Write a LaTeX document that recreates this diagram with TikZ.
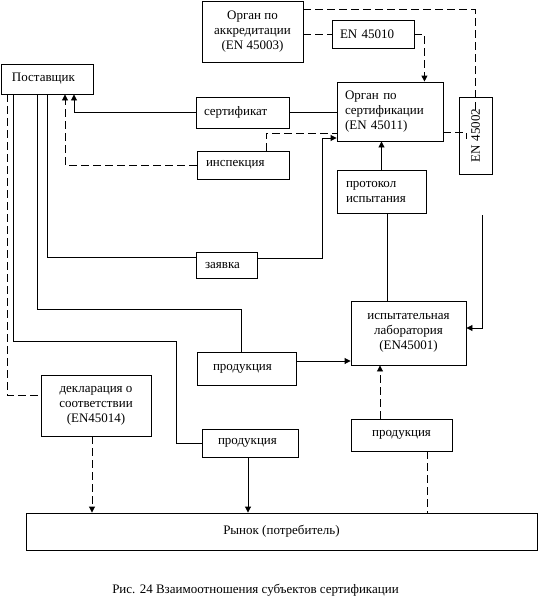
\documentclass[tikz,border=0pt]{standalone}
\usepackage{fontspec}
\setmainfont{Liberation Serif}
\usetikzlibrary{arrows.meta}
\begin{document}
\begin{tikzpicture}[x=1pt,y=-1pt,
  font=\fontsize{13}{15}\selectfont,
  box/.style={draw, line width=0.9pt, inner ysep=0pt},
  cbox/.style={box, align=center},
  lbox/.style={box, align=left},
  con/.style={line width=0.9pt},
  dsh/.style={con, dash pattern=on 8pt off 4pt},
  arr/.style={-{Triangle[length=6pt,width=6pt]}}]
\useasboundingbox (0,0) rectangle (538,608);
% nodes
\node[cbox, minimum width=101pt, minimum height=61pt] (acc) at (252.5,31.5) {Орган по\\аккредитации\\(EN 45003)};
\node[lbox, inner xsep=8pt, text width=66pt, minimum height=28pt] (en10) at (373,34) {EN 45010};
\node[lbox, inner xsep=11pt, text width=70pt, minimum height=30pt] (sup) at (47,79) {Поставщик};
\node[lbox, inner xsep=8pt, text width=77pt, minimum height=31pt] (cert) at (242.5,112.5) {сертификат};
\node[lbox, inner xsep=9pt, text width=74pt, minimum height=28pt] (insp) at (243,165) {инспекция};
\node[lbox, inner xsep=8pt, text width=90pt, minimum height=59pt] (org) at (390,111.5) {Орган по\\сертификации\\(EN 45011)};
\node[box, rotate=90, minimum width=77pt, minimum height=33pt] (en02) at (475.5,135.5) {EN 45002};
\node[lbox, inner xsep=9pt, text width=71pt, minimum height=43pt] (proto) at (381.5,191.5) {протокол\\испытания};
\node[lbox, inner xsep=9pt, text width=43pt, minimum height=26pt] (zay) at (226.5,265) {заявка};
\node[cbox, minimum width=115pt, minimum height=64pt] (lab) at (408.5,333) {испытательная\\лаборатория\\(EN45001)};
\node[lbox, inner xsep=16pt, text width=67pt, minimum height=33pt] (prod1) at (246.5,368.5) {продукция};
\node[cbox, minimum width=110pt, minimum height=61pt] (decl) at (96,405.5) {декларация о\\соответствии\\(EN45014)};
\node[lbox, inner xsep=16pt, text width=64pt, minimum height=28pt] (prod2) at (250,443) {продукция};
\node[cbox, minimum width=101pt, minimum height=32pt] (prod3) at (401.5,435) {продукция};
\node[cbox, minimum width=511pt, minimum height=37pt] (market) at (281.5,531.5) {Рынок (потребитель)};
\node (cap) at (255.5,590) {Рис. 24 Взаимоотношения субъектов сертификации};
% helper coordinates
\coordinate (c1) at (475,113);
\coordinate (c2) at (466,132);
\coordinate (c3) at (322,138);
\coordinate (c6) at (482,215);
\coordinate (c4) at (241,309);
\coordinate (c5) at (176,341);
\coordinate (p1e) at ([yshift=7.5pt]prod1.east);
\coordinate (prs) at ([xshift=5.5pt]proto.south);
\coordinate (p3n) at ([xshift=-21.5pt]prod3.north);
\coordinate (p3s) at ([xshift=25.5pt]prod3.south);
\coordinate (ds) at ([xshift=-4pt]decl.south);
\coordinate (p2s) at ([xshift=-2pt]prod2.south);
% connectors
\draw[dsh] (acc.east |- en10.west) -- (en10.west);
\draw[dsh,arr] (en10.east) -| ([xshift=-19pt]org.north east);
\draw[dsh] ([yshift=-9pt]acc.north east) -| (c1);
\draw[dsh] ([yshift=-20.5pt]org.east) -- (c2) -- ++(0,7);
\draw[con] (cert.east) -- (org.west |- cert.east);
\draw[con,arr] (cert.west) -| ([xshift=27pt]sup.south);
\draw[dsh,arr] (insp.west) -| ([xshift=18pt]sup.south);
\draw[dsh] ([xshift=23pt]insp.north) |- ([yshift=-21.5pt]org.west);
\draw[con] (sup.south) |- ([yshift=8pt]zay.west);
\draw[con,arr] ([yshift=7pt]zay.east) -| (c3) -- (org.west |- c3);
\draw[con] ([xshift=-10pt]sup.south) |- (c4) -- (c4 |- prod1.north);
\draw[con,arr] (p1e) -- (lab.west |- p1e);
\draw[con] ([xshift=-34pt]sup.south) |- (c5) |- (prod2.west);
\draw[dsh] ([xshift=-40pt]sup.south) |- ([yshift=10.5pt]decl.west);
\draw[con,arr] (proto.north) -- (proto.north |- org.south);
\draw[con] (prs) -- (prs |- lab.north);
\draw[con,arr] (c6) |- ([yshift=5pt]lab.east);
\draw[dsh,arr] (p3n) -- (p3n |- lab.south);
\draw[dsh] (p3s) -- (p3s |- market.north);
\draw[dsh,arr] (ds) -- (ds |- market.north);
\draw[con,arr] (p2s) -- (p2s |- market.north);
\end{tikzpicture}
\end{document}
